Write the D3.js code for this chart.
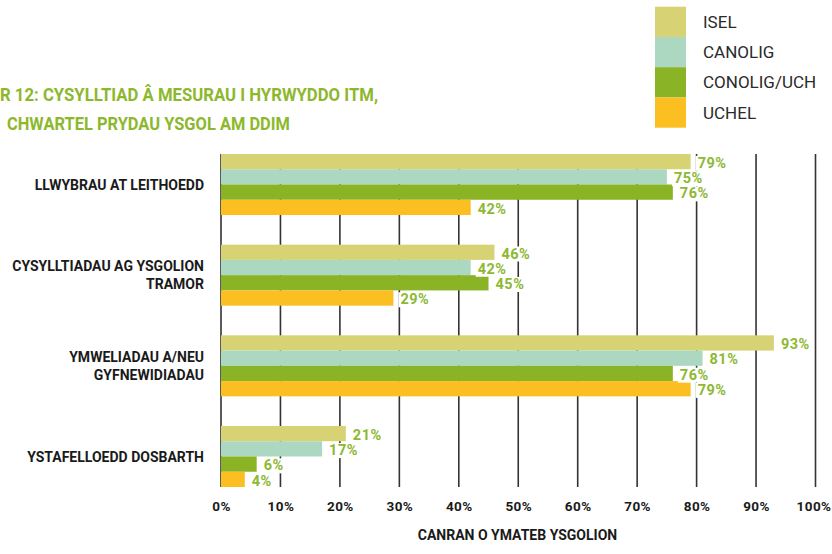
<!DOCTYPE html>
<html>
<head>
<meta charset="utf-8">
<script src="https://cdn.jsdelivr.net/npm/d3@7"></script>
<style>
  body { margin: 0; background: #fff; }
  svg { display: block; }
  text { font-family: Roboto, "Noto Sans", sans-serif; }
</style>
</head>
<body>
<div class="graph_container"></div>
<script>
const width = 832;
const height = 554;

// categories (top to bottom) and series
const categories = [
  'LLWYBRAU AT LEITHOEDD',
  'CYSYLLTIADAU AG YSGOLION TRAMOR',
  'YMWELIADAU A/NEU GYFNEWIDIADAU',
  'YSTAFELLOEDD DOSBARTH'
];
// labels broken over lines as in the original
const categoryLines = [
  ['LLWYBRAU AT LEITHOEDD'],
  ['CYSYLLTIADAU AG YSGOLION', 'TRAMOR'],
  ['YMWELIADAU A/NEU', 'GYFNEWIDIADAU'],
  ['YSTAFELLOEDD DOSBARTH']
];
const seriesNames = ['ISEL', 'CANOLIG', 'CONOLIG/UCH', 'UCHEL'];

// percent values per series, in category order
const iselValues = [79, 46, 93, 21];
const canoligValues = [75, 42, 81, 17];
const conoligUchValues = [76, 45, 76, 6];
const uchelValues = [42, 29, 79, 4];

const tickValues = [0, 10, 20, 30, 40, 50, 60, 70, 80, 90, 100];
const titleLines = ['R 12: CYSYLLTIAD Â MESURAU I HYRWYDDO ITM,', 'CHWARTEL PRYDAU YSGOL AM DDIM'];
const axisTitle = 'CANRAN O YMATEB YSGOLION';

const colors = ['#d7d375', '#acd8c1', '#8ab325', '#fbbf22'];
const labelGreen = '#8db832';

const values = [iselValues, canoligValues, conoligUchValues, uchelValues];
const data = categories.map(function (c, i) {
  return { cat: c, vals: seriesNames.map(function (s, j) { return { key: s, value: values[j][i] }; }) };
});

const svg = d3.select('.graph_container').append('svg')
  .attr('width', width)
  .attr('height', height);

const x = d3.scaleLinear().domain([0, 100]).range([221, 815.5]);
const y0 = d3.scaleBand().domain(categories).range([154, 487]).paddingInner(0.327).paddingOuter(0);
const y1 = d3.scaleBand().domain(seriesNames).range([0, y0.bandwidth()]);
const color = d3.scaleOrdinal().domain(seriesNames).range(colors);

// title (cut at the left edge like the source), squeezed to the source's condensed width
const titleWidths = [378, 283];
svg.append('g').selectAll('text')
  .data(titleLines)
  .enter().append('text')
  .attr('x', function (d, i) { return i === 0 ? 0 : 7; })
  .attr('y', function (d, i) { return 100.5 + i * 29.5; })
  .attr('textLength', function (d, i) { return titleWidths[i]; })
  .attr('lengthAdjust', 'spacingAndGlyphs')
  .style('font-size', '18px')
  .style('font-weight', 'bold')
  .style('fill', '#8db82d')
  .text(function (d) { return d; });

// legend
const legend = svg.append('g').selectAll('.legend')
  .data(seriesNames)
  .enter().append('g')
  .attr('class', 'legend')
  .attr('transform', function (d, i) { return 'translate(655,' + (6.7 + i * 30.25) + ')'; });
legend.append('rect')
  .attr('width', 31)
  .attr('height', 30.25)
  .style('fill', function (d) { return color(d); });
legend.append('text')
  .attr('x', 48)
  .attr('y', 15)
  .attr('dy', '.36em')
  .style('font-size', '17px')
  .style('fill', '#2a2a2a')
  .text(function (d) { return d; });

// vertical grid lines
svg.append('g').selectAll('line')
  .data(tickValues)
  .enter().append('line')
  .attr('x1', function (d) { return x(d); })
  .attr('x2', function (d) { return x(d); })
  .attr('y1', y0.range()[0])
  .attr('y2', y0.range()[1])
  .style('stroke', '#333')
  .style('stroke-width', 1.6);

// x axis
const xAxis = d3.axisBottom(x)
  .tickValues(tickValues)
  .tickSize(0)
  .tickPadding(14)
  .tickFormat(function (d) { return d + '%'; });
const gx = svg.append('g')
  .attr('transform', 'translate(0,487)')
  .call(xAxis);
gx.select('.domain').remove();
gx.selectAll('text')
  .attr('font-family', null)
  .attr('dx', function (d) { return d === 100 ? -2 : 0; })
  .style('font-size', '13.5px')
  .style('font-weight', 'bold')
  .style('letter-spacing', '0.4px')
  .style('fill', '#1a1a1a');

svg.append('text')
  .attr('x', 517.5)
  .attr('y', 540)
  .style('text-anchor', 'middle')
  .style('font-size', '14px')
  .style('font-weight', 'bold')
  .style('fill', '#1a1a1a')
  .text(axisTitle);

// category labels
const catLabels = svg.append('g').selectAll('text')
  .data(data)
  .enter().append('text')
  .attr('y', function (d) { return y0(d.cat) + y0.bandwidth() / 2; })
  .style('text-anchor', 'end')
  .style('font-size', '14px')
  .style('font-weight', 'bold')
  .style('fill', '#1a1a1a');
catLabels.each(function (d, i) {
  const lines = categoryLines[i];
  const t = d3.select(this);
  lines.forEach(function (l, k) {
    t.append('tspan')
      .attr('x', 204)
      .attr('dy', k === 0 ? (0.36 - (lines.length - 1) * 0.66) + 'em' : '1.32em')
      .text(l);
  });
});

// bars
const groups = svg.append('g').selectAll('.group')
  .data(data)
  .enter().append('g')
  .attr('transform', function (d) { return 'translate(0,' + y0(d.cat) + ')'; });

groups.selectAll('rect.bar')
  .data(function (d) { return d.vals; })
  .enter().append('rect')
  .attr('class', 'bar')
  .attr('x', x(0))
  .attr('y', function (d) { return y1(d.key); })
  .attr('width', function (d) { return x(d.value) - x(0); })
  .attr('height', y1.bandwidth())
  .style('fill', function (d) { return color(d.key); });

// value labels sit on a white patch that hides the grid line behind them
const valueLabels = groups.selectAll('.value')
  .data(function (d) { return d.vals; })
  .enter().append('g')
  .attr('class', 'value');
const valueText = valueLabels.append('text')
  .attr('x', function (d) { return x(d.value) + 7; })
  .attr('y', function (d) { return y1(d.key) + y1.bandwidth() / 2 + 1; })
  .attr('dy', '.36em')
  .style('font-size', '14.5px')
  .style('font-weight', 'bold')
  .style('letter-spacing', '0.5px')
  .style('fill', labelGreen)
  .text(function (d) { return d.value + '%'; });
valueLabels.insert('rect', 'text')
  .each(function () {
    const bb = this.parentNode.querySelector('text').getBBox();
    d3.select(this)
      .attr('x', bb.x - 2)
      .attr('y', bb.y + 1)
      .attr('width', bb.width + 4)
      .attr('height', bb.height - 2);
  })
  .style('fill', '#fff');
</script>
</body>
</html>
